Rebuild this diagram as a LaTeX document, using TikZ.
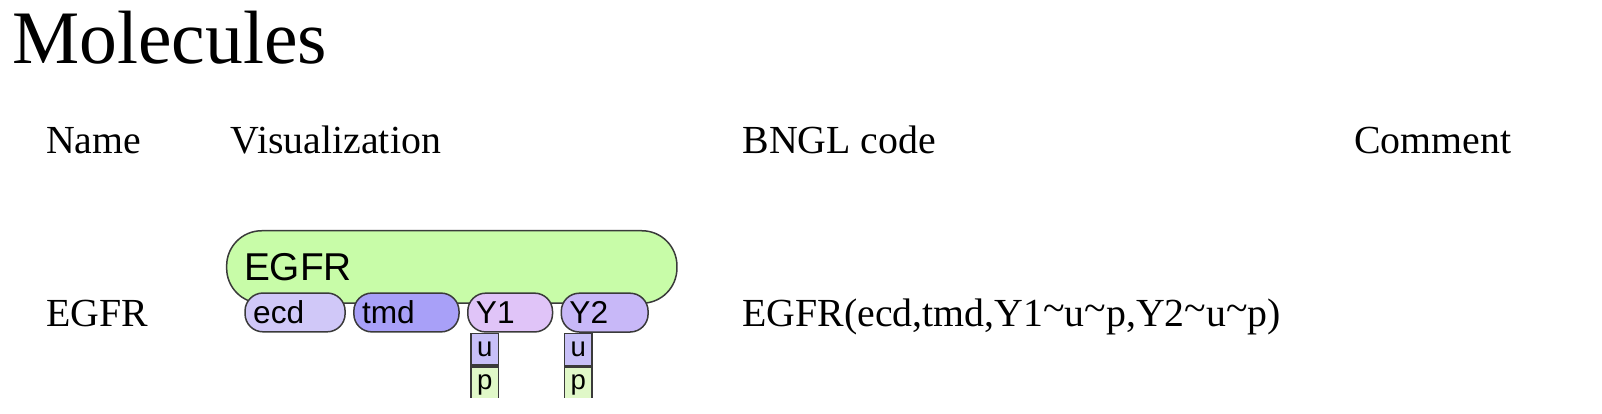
\documentclass[tikz,border=0pt]{standalone}
\usepackage{fontspec}
\setmainfont{Liberation Serif}
\newfontfamily\sansfont{Liberation Sans}
\usetikzlibrary{positioning}

\definecolor{molgreen}{HTML}{C8FCA8}
\definecolor{ecdcol}{HTML}{D0C8F8}
\definecolor{tmdcol}{HTML}{A8A0F8}
\definecolor{yonecol}{HTML}{E0C4F8}
\definecolor{ytwocol}{HTML}{C8B8F8}
\definecolor{ucol}{HTML}{C8C0F8}
\definecolor{pcol}{HTML}{E0F8C8}
\definecolor{edgegray}{HTML}{3A3A3A}

\tikzset{
  txt/.style={anchor=base west, inner sep=0pt, font=\fontsize{39}{47}\selectfont},
  comp/.style={draw=edgegray, line width=1.5pt, rounded corners=18pt, minimum height=38pt,
    text width=#1, inner xsep=8pt, inner ysep=0pt, text height=24pt, text depth=2pt,
    align=left, font=\sansfont\fontsize{31}{33}\selectfont},
  state/.style={draw=edgegray, line width=1.5pt, minimum width=27pt, minimum height=31pt,
    inner sep=0pt, font=\sansfont\fontsize{27}{29}\selectfont}
}

\begin{document}
\begin{tikzpicture}[x=1pt, y=-1pt]
  \useasboundingbox (0,0) rectangle (1602,414);
  \begin{scope}[scale=1.021, transform shape]
  \node[anchor=base west, inner sep=0pt, font=\fontsize{74}{88}\selectfont] (title) at (12,62) {Molecules};
  % header row
  \node[txt] (hname) at (45,150) {Name};
  \node[txt] (hvis) at (226,150) {Visualization};
  \node[txt] (hcode) at (727,150) {BNGL code};
  \node[txt] (hcomment) at (1326,150) {Comment};
  % molecule row
  \node[txt] (rname) at (45,320) {EGFR};
  \node[txt] (rcode) at (727,320) {EGFR(ecd,tmd,Y1\raisebox{0.3ex}{\textasciitilde}u\raisebox{0.3ex}{\textasciitilde}p,Y2\raisebox{0.3ex}{\textasciitilde}u\raisebox{0.3ex}{\textasciitilde}p)};
  % visualization
  \node[draw=edgegray, line width=1.5pt, fill=molgreen, rounded corners=35pt, minimum height=71pt,
    text width=407pt, inner xsep=17pt, align=left, font=\sansfont\fontsize{38}{42}\selectfont] (egfr) at (442.5,261.5) {EGFR};
  \node[comp=82pt, fill=ecdcol] (ecd) at (289,306) {ecd};
  \node[comp=87pt, fill=tmdcol, right=7pt of ecd] (tmd) {tmd};
  \node[comp=67pt, fill=yonecol, right=7pt of tmd] (y1) {Y1};
  \node[comp=69pt, fill=ytwocol, right=7pt of y1] (y2) {Y2};
  \node[state, fill=ucol, below right=0pt and 3pt of y1.south west] (y1u) {u};
  \node[state, fill=ucol, below right=0pt and 3pt of y2.south west] (y2u) {u};
  \clip (0,0) rectangle (1602,389);
  \node[state, fill=pcol, minimum height=36pt, below=0pt of y1u] (y1p) {p};
  \node[state, fill=pcol, minimum height=36pt, below=0pt of y2u] (y2p) {p};
  \end{scope}
\end{tikzpicture}
\end{document}
